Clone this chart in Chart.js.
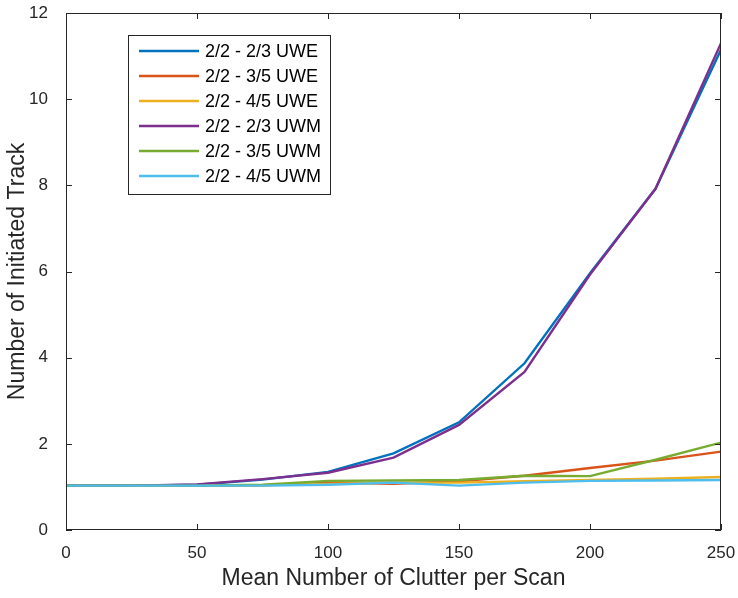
<!DOCTYPE html>
<html>
<head>
<meta charset="utf-8">
<script src="https://cdn.jsdelivr.net/npm/chart.js@4/dist/chart.umd.min.js"></script>
<style>
  html, body { margin: 0; padding: 0; background: #fff; }
  canvas { display: block; }
</style>
</head>
<body>
<canvas id="chart" width="738" height="598"></canvas>
<script>
const clutter = [0, 25, 50, 75, 100, 125, 150, 175, 200, 225, 250];
const uwe23 = [1.03, 1.03, 1.05, 1.17, 1.35, 1.78, 2.50, 3.87, 5.96, 7.92, 11.15];
const uwe35 = [1.03, 1.03, 1.03, 1.04, 1.10, 1.07, 1.13, 1.26, 1.44, 1.61, 1.82];
const uwe45 = [1.03, 1.03, 1.03, 1.04, 1.07, 1.10, 1.10, 1.13, 1.16, 1.19, 1.23];
const uwm23 = [1.03, 1.03, 1.06, 1.18, 1.33, 1.68, 2.44, 3.67, 5.93, 7.92, 11.30];
const uwm35 = [1.03, 1.03, 1.03, 1.05, 1.14, 1.15, 1.16, 1.26, 1.25, 1.63, 2.03];
const uwm45 = [1.03, 1.03, 1.03, 1.03, 1.05, 1.10, 1.03, 1.10, 1.14, 1.15, 1.16];
const seriesLabels = ['2/2 - 2/3 UWE', '2/2 - 3/5 UWE', '2/2 - 4/5 UWE', '2/2 - 2/3 UWM', '2/2 - 3/5 UWM', '2/2 - 4/5 UWM'];
const seriesColors = ['#0072BD', '#D95319', '#EDB120', '#7E2F8E', '#77AC30', '#4DBEEE'];
const xTicks = [0, 50, 100, 150, 200, 250];
const yTicks = [0, 2, 4, 6, 8, 10, 12];

const axisColor = '#262626';
const fontFamily = '"Liberation Sans", Arial, Helvetica, sans-serif';
const allSeries = [uwe23, uwe35, uwe45, uwm23, uwm35, uwm45];

// matlab style box with inward ticks on all four sides
const boxPlugin = {
  id: 'box',
  afterDraw(chart) {
    const ctx = chart.ctx;
    const a = chart.chartArea;
    const xs = chart.scales.x, ys = chart.scales.y;
    const len = 6;
    ctx.save();
    ctx.strokeStyle = axisColor;
    ctx.lineWidth = 1;
    ctx.strokeRect(a.left + 0.5, a.top + 0.5, a.right - a.left - 1, a.bottom - a.top - 1);
    ctx.beginPath();
    xTicks.forEach(v => {
      const px = Math.round(xs.getPixelForValue(v)) + 0.5;
      ctx.moveTo(px, a.bottom); ctx.lineTo(px, a.bottom - len);
      ctx.moveTo(px, a.top); ctx.lineTo(px, a.top + len);
    });
    yTicks.forEach(v => {
      const py = Math.round(ys.getPixelForValue(v)) + 0.5;
      ctx.moveTo(a.left, py); ctx.lineTo(a.left + len, py);
      ctx.moveTo(a.right, py); ctx.lineTo(a.right - len, py);
    });
    ctx.stroke();
    ctx.restore();
  }
};

// legend drawn inside the axes, north-west
const legendPlugin = {
  id: 'insideLegend',
  afterDraw(chart) {
    const ctx = chart.ctx;
    const x0 = 128, y0 = 35, w = 202, h = 159;
    ctx.save();
    ctx.fillStyle = '#fff';
    ctx.fillRect(x0, y0, w, h);
    ctx.strokeStyle = axisColor;
    ctx.lineWidth = 1;
    ctx.strokeRect(x0 + 0.5, y0 + 0.5, w, h);
    ctx.font = '18px ' + fontFamily;
    ctx.textBaseline = 'middle';
    chart.data.datasets.forEach((ds, i) => {
      const y = y0 + 16 + i * 25;
      ctx.strokeStyle = ds.borderColor;
      ctx.lineWidth = 2.5;
      ctx.beginPath();
      ctx.moveTo(x0 + 11, y);
      ctx.lineTo(x0 + 71, y);
      ctx.stroke();
      ctx.fillStyle = '#000';
      ctx.fillText(ds.label, x0 + 77, y + 1);
    });
    ctx.restore();
  }
};

const datasets = allSeries.map((vals, i) => ({
  label: seriesLabels[i],
  data: vals.map((v, j) => ({ x: clutter[j], y: v })),
  borderColor: seriesColors[i],
  backgroundColor: seriesColors[i],
  borderWidth: 2.4,
  pointRadius: 0,
  tension: 0,
  fill: false,
  order: allSeries.length - 1 - i
}));

new Chart(document.getElementById('chart'), {
  type: 'line',
  data: { datasets },
  plugins: [boxPlugin, legendPlugin],
  options: {
    responsive: false,
    animation: false,
    layout: { padding: { top: 13, right: 17, left: 0, bottom: 0 } },
    plugins: { legend: { display: false }, tooltip: { enabled: false } },
    scales: {
      x: {
        type: 'linear',
        min: 0,
        max: 250,
        afterBuildTicks: s => { s.ticks = xTicks.map(v => ({ value: v })); },
        afterFit: s => { s.height = 68; s.paddingLeft = 0; s.paddingRight = 0; },
        grid: { display: false },
        border: { display: false },
        ticks: { color: axisColor, font: { size: 17, family: fontFamily }, padding: 5, maxRotation: 0 },
        title: {
          display: true,
          text: 'Mean Number of Clutter per Scan',
          color: axisColor,
          font: { size: 23, family: fontFamily },
          padding: { top: 0, bottom: 6 }
        }
      },
      y: {
        type: 'linear',
        min: 0,
        max: 12,
        afterBuildTicks: s => { s.ticks = yTicks.map(v => ({ value: v })); },
        afterFit: s => { s.width = 66; s.paddingTop = 0; s.paddingBottom = 0; },
        grid: { display: false },
        border: { display: false },
        ticks: { color: axisColor, font: { size: 17, family: fontFamily }, padding: 10 },
        title: {
          display: true,
          text: 'Number of Initiated Track',
          color: axisColor,
          font: { size: 23, family: fontFamily },
          padding: { top: 4, bottom: 0 }
        }
      }
    }
  }
});
</script>
</body>
</html>
